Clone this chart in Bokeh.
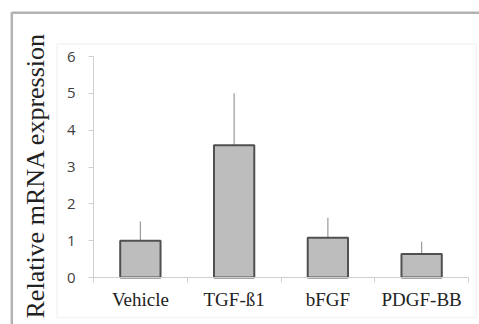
from bokeh.plotting import figure
from bokeh.models import Range1d, FixedTicker, Whisker, ColumnDataSource, BoxAnnotation, LinearAxis
from bokeh.embed import file_html
from bokeh.resources import INLINE

categories = ["Vehicle", "TGF-ß1", "bFGF", "PDGF-BB"]
means = [1.0, 3.59, 1.08, 0.64]
err_low = [0.47, 2.18, 0.54, 0.30]
err_high = [1.52, 5.0, 1.62, 0.97]
y_ticks = [0, 1, 2, 3, 4, 5, 6]

xs = [i + 0.5 for i in range(len(categories))]
src = ColumnDataSource(dict(x=xs, top=means, lo=err_low, hi=err_high))

# the plot frame covers the whole canvas; axes are placed with fixed_location
p = figure(width=479, height=324, output_backend="svg", toolbar_location=None,
           x_range=Range1d(-0.992, 4.1173), y_range=Range1d(-1.276, 7.5204),
           min_border=0, min_border_left=0, min_border_right=0,
           min_border_top=0, min_border_bottom=0, x_axis_type=None, y_axis_type=None)
p.background_fill_color = "white"
p.border_fill_color = "white"
p.outline_line_color = None
p.grid.visible = False

# inner light frame and outer black frame
p.add_layout(BoxAnnotation(left=-0.3893, right=4.08, top=6.339, bottom=-1.086,
                           fill_color=None, line_color="#d6d6d6", line_width=1.5))
p.add_layout(BoxAnnotation(left=-0.8715, right=6, top=7.189, bottom=-3,
                           fill_color=None, line_color="black", line_width=2.5))

p.vbar(x="x", top="top", bottom=0, width=0.43, source=src,
       fill_color="#bdbdbd", line_color="#505050", line_width=2)
p.add_layout(Whisker(source=src, base="x", lower="lo", upper="hi",
                     line_color="#999999", line_width=1.2, upper_head=None, lower_head=None))

# y axis (ticks and labels)
ya = LinearAxis(fixed_location=0, bounds=(0, 6), ticker=FixedTicker(ticks=y_ticks))
ya.axis_line_color = "#cfcfcf"
ya.major_tick_line_color = "#cfcfcf"
ya.major_tick_in = 0
ya.major_tick_out = 5
ya.minor_tick_line_color = None
ya.major_label_text_font = "Open Sans"
ya.major_label_text_font_size = "15px"
ya.major_label_text_color = "#404040"
ya.major_label_standoff = 13
p.add_layout(ya, "left")

# y axis title (separate axis so that it can be centred like the reference)
yt = LinearAxis(fixed_location=0, bounds=(-0.46, 6), ticker=FixedTicker(ticks=[]))
yt.axis_line_color = None
yt.major_tick_line_color = None
yt.minor_tick_line_color = None
yt.major_tick_out = 0
yt.minor_tick_out = 0
yt.axis_label = "Relative mRNA expression"
yt.axis_label_text_font = "Liberation Serif"
yt.axis_label_text_font_style = "normal"
yt.axis_label_text_font_size = "26px"
yt.axis_label_text_color = "#222222"
yt.axis_label_standoff = 44
p.add_layout(yt, "left")

# x axis
xa = LinearAxis(fixed_location=0, bounds=(-0.05, 4),
                ticker=FixedTicker(ticks=xs, minor_ticks=list(range(len(categories) + 1))))
xa.major_label_overrides = {x: c for x, c in zip(xs, categories)}
xa.axis_line_color = "#cfcfcf"
xa.major_tick_line_color = None
xa.major_tick_in = 0
xa.major_tick_out = 5
xa.minor_tick_line_color = "#cfcfcf"
xa.minor_tick_in = 0
xa.minor_tick_out = 5
xa.major_label_text_font = "Liberation Serif"
xa.major_label_text_font_size = "19px"
xa.major_label_text_color = "#222222"
xa.major_label_standoff = 6
p.add_layout(xa, "below")

open("out.html", "w").write(file_html(p, INLINE))
